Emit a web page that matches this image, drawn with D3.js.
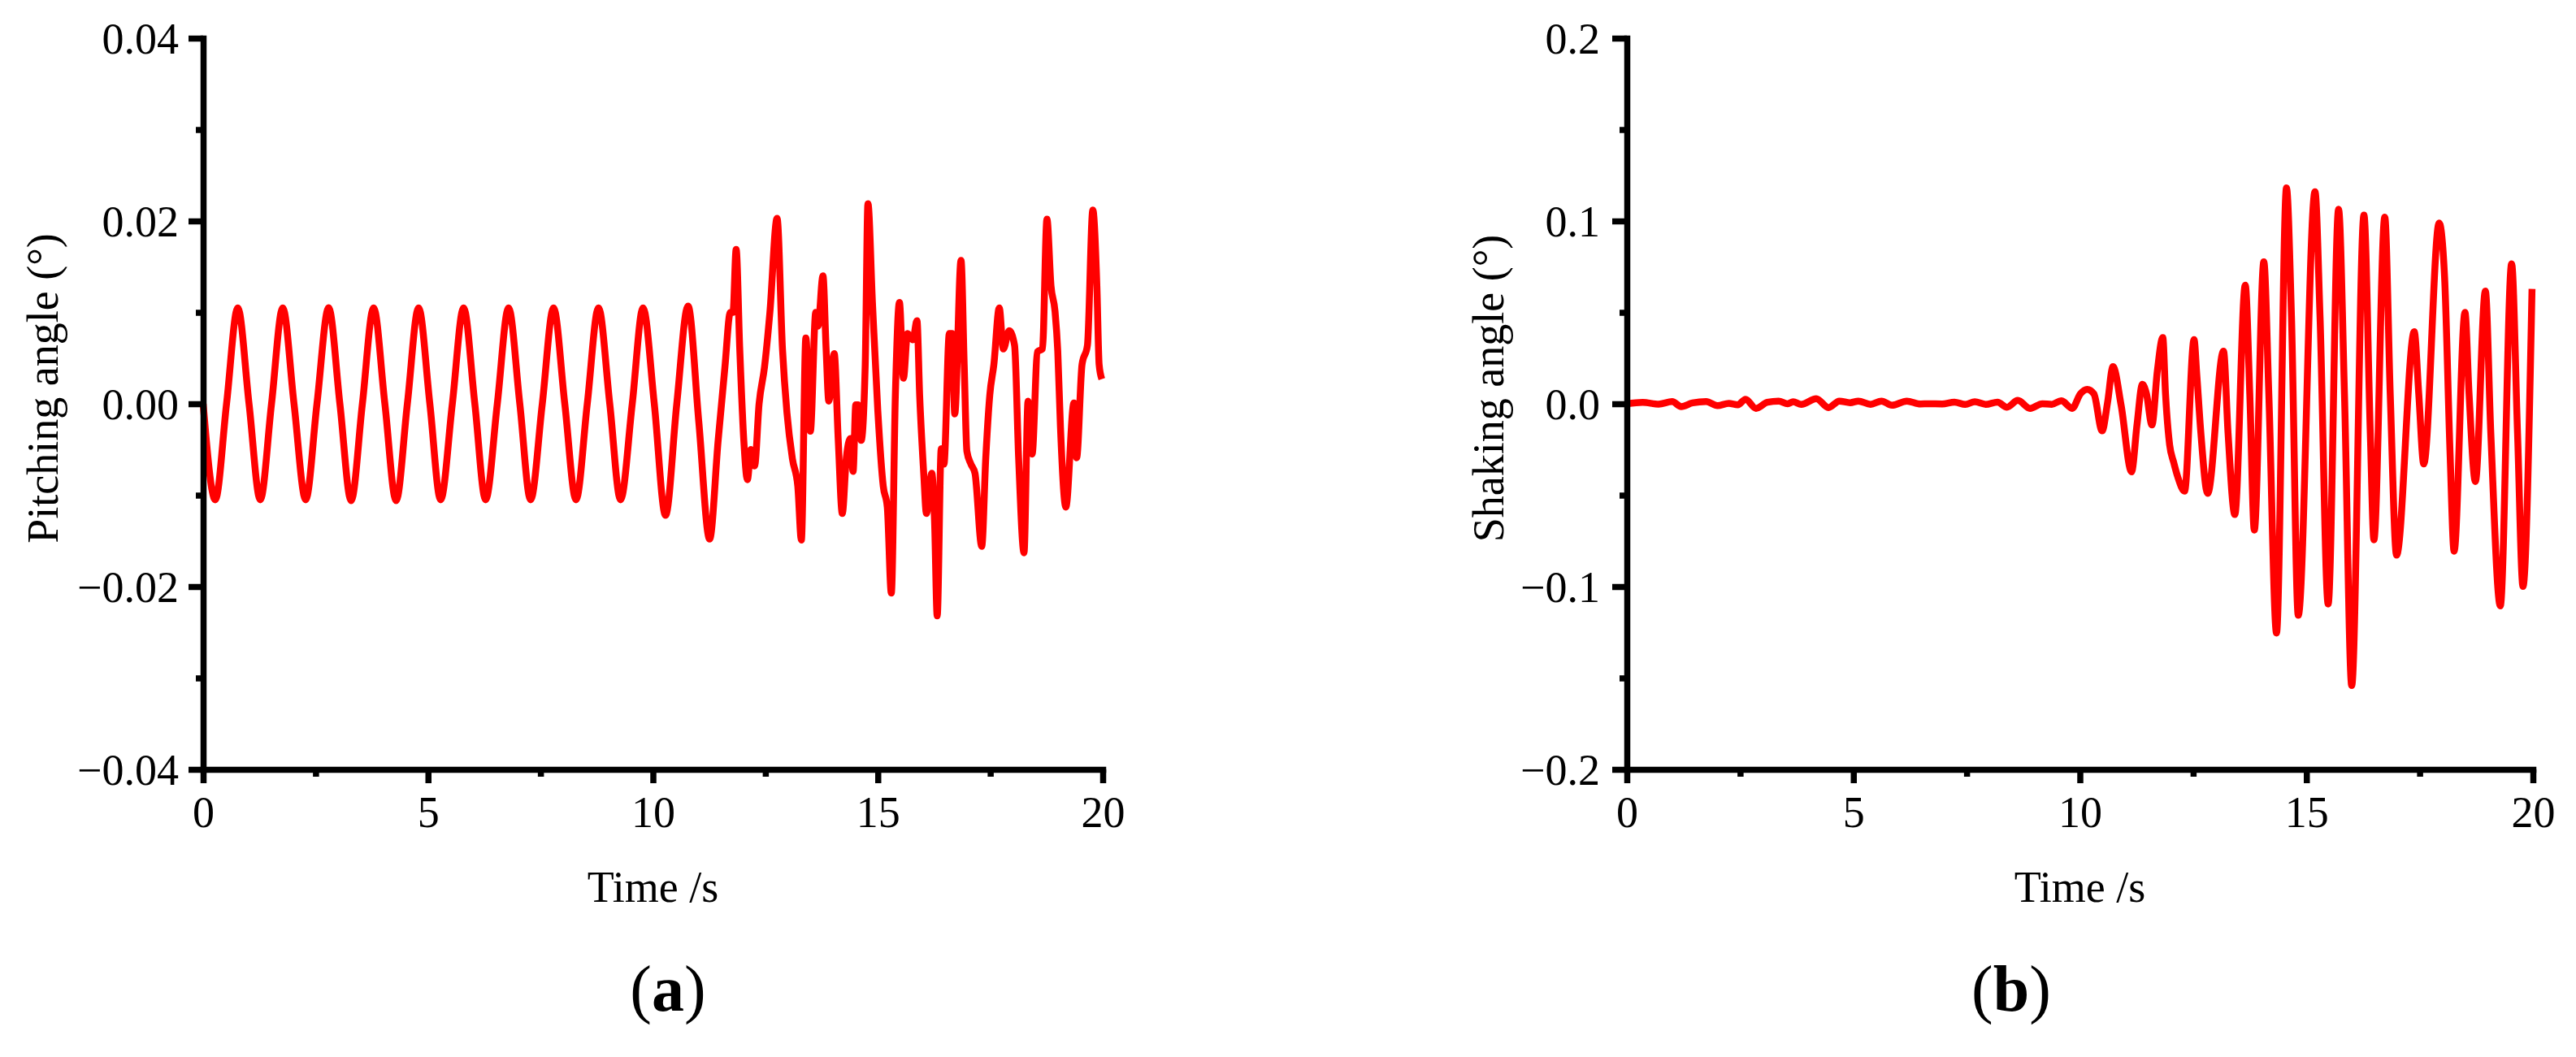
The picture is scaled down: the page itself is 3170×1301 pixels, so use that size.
<!DOCTYPE html>
<html>
<head>
<meta charset="utf-8">
<script src="https://cdn.jsdelivr.net/npm/d3@7"></script>
<style>
  html, body { margin: 0; padding: 0; background: #ffffff; }
  svg { display: block; }
</style>
</head>
<body>
<svg id="chart" width="3170" height="1301"></svg>
<script>
// ---------------- DATA ----------------
const pitchTime = [
  0.00, 0.27, 0.52, 0.77, 1.02, 1.27, 1.52, 1.77, 2.02, 2.28, 2.53, 2.79, 3.04, 3.29, 3.54, 3.79,
  4.04, 4.29, 4.54, 4.79, 5.04, 5.28, 5.54, 5.79, 6.04, 6.28, 6.54, 6.79, 7.04, 7.28, 7.54, 7.79,
  8.04, 8.29, 8.54, 8.79, 9.04, 9.28, 9.54, 9.78, 10.03, 10.28, 10.53, 10.78, 11.02, 11.26,
  11.45, 11.60, 11.72, 11.78, 11.85, 11.93, 12.02, 12.10, 12.18, 12.26, 12.36, 12.48, 12.60, 12.76,
  12.88, 12.98, 13.10, 13.22, 13.30, 13.40, 13.50, 13.62, 13.67, 13.78, 13.85, 13.91, 14.03, 14.12,
  14.21, 14.30, 14.39, 14.45, 14.51, 14.56, 14.63, 14.72, 14.78, 14.88, 15.00, 15.12, 15.21, 15.30,
  15.39, 15.48, 15.57, 15.66, 15.78, 15.87, 15.93, 16.02, 16.08, 16.20, 16.26, 16.32, 16.41, 16.47,
  16.59, 16.65, 16.71, 16.85, 16.92, 16.98, 17.07, 17.16, 17.31, 17.40, 17.49, 17.58, 17.70, 17.79,
  17.92, 18.04, 18.13, 18.25, 18.34, 18.43, 18.55, 18.66, 18.76, 18.85, 18.94, 19.00, 19.06, 19.18,
  19.36, 19.42, 19.54, 19.66, 19.78, 19.87, 19.92, 19.98
];
const pitchAngle = [
  0.0000, -0.0105, 0.0000, 0.0105, 0.0000, -0.0105, 0.0000, 0.0105, 0.0000, -0.0105, 0.0000, 0.0105, 0.0000, -0.0106, 0.0000, 0.0105,
  0.0000, -0.0106, 0.0000, 0.0105, 0.0000, -0.0105, 0.0000, 0.0105, 0.0000, -0.0105, 0.0000, 0.0105, 0.0000, -0.0105, 0.0000, 0.0105,
  0.0000, -0.0105, 0.0000, 0.0105, 0.0000, -0.0105, 0.0000, 0.0105, 0.0000, -0.0122, 0.0000, 0.0107, -0.0020, -0.0148,
  -0.0040, 0.0040, 0.0100, 0.0100, 0.0169, 0.0060, -0.0040, -0.0083, -0.0050, -0.0068, 0.0000, 0.0040, 0.0100, 0.0203,
  0.0060, -0.0010, -0.0060, -0.0090, -0.0149, 0.0072, -0.0030, 0.0100, 0.0085, 0.0140, 0.0060, 0.0003, 0.0055, -0.0040,
  -0.0120, -0.0059, -0.0038, -0.0074, -0.0001, -0.0001, -0.0040, 0.0043, 0.0219, 0.0111, -0.0008, -0.0090, -0.0113, -0.0207,
  0.0010, 0.0111, 0.0028, 0.0077, 0.0070, 0.0091, 0.0009, -0.0076, -0.0120, -0.0076, -0.0127, -0.0232, -0.0049, -0.0066,
  0.0077, 0.0077, -0.0011, 0.0157, 0.0043, -0.0052, -0.0066, -0.0076, -0.0156, -0.0059, 0.0010, 0.0043, 0.0105, 0.0060,
  0.0080, 0.0064, -0.0059, -0.0163, 0.0003, -0.0055, 0.0057, 0.0060, 0.0202, 0.0129, 0.0101, 0.0058, -0.0025, -0.0113,
  0.0001, -0.0059, 0.0043, 0.0064, 0.0212, 0.0129, 0.0043, 0.0027
];

const shakeTime = [
  0.00, 0.35, 0.70, 1.00, 1.20, 1.45, 1.75, 2.00, 2.25, 2.45, 2.62, 2.85, 3.10, 3.35, 3.55, 3.67,
  3.85, 4.18, 4.45, 4.69, 4.93, 5.11, 5.38, 5.62, 5.85, 6.18, 6.48, 6.66, 6.96, 7.23, 7.47, 7.68,
  7.92, 8.18, 8.39, 8.63, 8.90, 9.17, 9.38, 9.59, 9.83, 10.01, 10.16, 10.31, 10.49, 10.61, 10.73,
  10.91, 11.14, 11.26, 11.38, 11.47, 11.59, 11.71, 11.83, 11.89, 11.98, 12.07, 12.16, 12.31, 12.52,
  12.58, 12.67, 12.82, 13.17, 13.27, 13.42, 13.65, 13.75, 13.85, 14.06, 14.17, 14.34, 14.56, 14.67,
  14.82, 15.19, 15.30, 15.48, 15.71, 15.84, 16.00, 16.27, 16.41, 16.49, 16.73, 16.85, 16.99, 17.38,
  17.48, 17.59, 17.93, 18.05, 18.17, 18.26, 18.50, 18.59, 18.73, 18.95, 19.07, 19.28, 19.53, 19.66,
  19.78, 19.98
];
const shakeAngle = [
  0.0000, 0.0008, -0.0002, 0.0012, -0.0015, 0.0005, 0.0012, -0.0010, 0.0002, -0.0005, 0.0025, -0.0025, 0.0008, 0.0015, 0.0000, 0.0011,
  -0.0003, 0.0028, -0.0021, 0.0015, 0.0006, 0.0015, -0.0003, 0.0015, -0.0008, 0.0015, -0.0001, 0.0000, -0.0001, 0.0009, -0.0003, 0.0011,
  -0.0003, 0.0009, -0.0019, 0.0019, -0.0025, 0.0000, -0.0003, 0.0017, -0.0025, 0.0054, 0.0079, 0.0054, -0.0148, 0.0006, 0.0203,
  -0.0008, -0.0372, -0.0116, 0.0107, 0.0054, -0.0116, 0.0181, 0.0362, 0.0054, -0.0223, -0.0320, -0.0400, -0.0478, 0.0351,
  0.0160, -0.0159, -0.0490, 0.0288, -0.0159, -0.0606, 0.0649, 0.0054, -0.0691, 0.0777, 0.0054, -0.1254, 0.1181, 0.0479,
  -0.1157, 0.1160, 0.0480, -0.1095, 0.1064, 0.0054, -0.1541, 0.1032, -0.0159, -0.0744, 0.1021, 0.0054, -0.0828, 0.0394,
  0.0054, -0.0329, 0.0989, 0.0692, -0.0265, -0.0807, 0.0500, 0.0054, -0.0425, 0.0617, -0.0159, -0.1105, 0.0766, -0.0159,
  -0.0999, 0.0628
];

const xTicks = [0, 5, 10, 15, 20];
const xMinorTicks = [2.5, 7.5, 12.5, 17.5];
const pitchTicks = [-0.04, -0.02, 0.00, 0.02, 0.04];
const pitchTickLabels = ["\u22120.04", "\u22120.02", "0.00", "0.02", "0.04"];
const pitchMinorTicks = [-0.03, -0.01, 0.01, 0.03];
const shakeTicks = [-0.2, -0.1, 0.0, 0.1, 0.2];
const shakeTickLabels = ["\u22120.2", "\u22120.1", "0.0", "0.1", "0.2"];
const shakeMinorTicks = [-0.15, -0.05, 0.05, 0.15];

// ---------------- DRAWING ----------------
const svg = d3.select("#chart");
svg.append("rect").attr("width", 3170).attr("height", 1301).attr("fill", "#ffffff");

const FONT = "'Liberation Serif', 'Times New Roman', serif";

function panel(opts) {
  const x = d3.scaleLinear().domain([0, 20]).range([opts.x0, opts.x1]);
  const y = d3.scaleLinear().domain(opts.yDomain).range([947, 47]);
  const g = svg.append("g");

  // data line
  const pts = opts.times.map((t, i) => [t, opts.values[i]]);
  g.append("path")
    .datum(pts)
    .attr("fill", "none")
    .attr("stroke", "#ff0000")
    .attr("stroke-width", 8.5)
    .attr("stroke-linejoin", "round")
    .attr("d", d3.line().x(d => x(d[0])).y(d => y(d[1])).curve(d3.curveMonotoneX));

  // minor ticks
  g.append("g").attr("transform", `translate(0,947)`)
    .call(d3.axisBottom(x).tickValues(xMinorTicks).tickSize(9).tickSizeOuter(0).tickFormat(""))
    .call(s => s.select(".domain").remove());
  g.append("g").attr("transform", `translate(${opts.x0},0)`)
    .call(d3.axisLeft(y).tickValues(opts.minor).tickSize(9).tickSizeOuter(0).tickFormat(""))
    .call(s => s.select(".domain").remove());

  // major axes
  const xa = g.append("g").attr("transform", `translate(0,947)`)
    .call(d3.axisBottom(x).tickValues(xTicks).tickSize(17).tickSizeOuter(0).tickPadding(16).tickFormat(d3.format("d")));
  const ya = g.append("g").attr("transform", `translate(${opts.x0},0)`)
    .call(d3.axisLeft(y).tickValues(opts.ticks).tickSize(18).tickSizeOuter(0).tickPadding(opts.yPad)
      .tickFormat((d, i) => opts.labels[i]));

  g.selectAll(".tick line").attr("stroke", "#000").attr("stroke-width", 7.5);
  g.selectAll(".domain").attr("stroke", "#000").attr("stroke-width", 7.5).attr("stroke-linecap", "square");
  g.selectAll(".tick text")
    .attr("font-family", FONT)
    .attr("font-size", 54)
    .attr("fill", "#000");
  ya.selectAll(".tick text").attr("dy", "0.34em");

  // axis titles
  g.append("text")
    .attr("transform", `translate(${opts.yTitleX},478) rotate(-90)`)
    .attr("text-anchor", "middle")
    .attr("font-family", FONT).attr("font-size", 54).attr("fill", "#000")
    .text(opts.yTitle);
  g.append("text")
    .attr("x", (opts.x0 + opts.x1) / 2).attr("y", 1110)
    .attr("text-anchor", "middle")
    .attr("font-family", FONT).attr("font-size", 54).attr("fill", "#000")
    .text("Time /s");

  // panel label
  const lab = g.append("text")
    .attr("x", opts.labelX).attr("y", 1244)
    .attr("text-anchor", "middle")
    .attr("font-family", FONT).attr("font-size", 80).attr("fill", "#000");
  lab.append("tspan").text("(");
  lab.append("tspan").attr("font-weight", "bold").text(opts.label);
  lab.append("tspan").text(")");
}

panel({
  x0: 250, x1: 1357, yDomain: [-0.04, 0.04],
  times: pitchTime, values: pitchAngle,
  ticks: pitchTicks, labels: pitchTickLabels, minor: pitchMinorTicks, yPad: 12,
  yTitle: "Pitching angle (\u00B0)", yTitleX: 71,
  label: "a", labelX: 822
});

panel({
  x0: 2002, x1: 3117, yDomain: [-0.2, 0.2],
  times: shakeTime, values: shakeAngle,
  ticks: shakeTicks, labels: shakeTickLabels, minor: shakeMinorTicks, yPad: 15,
  yTitle: "Shaking angle (\u00B0)", yTitleX: 1850,
  label: "b", labelX: 2475
});
</script>
</body>
</html>
